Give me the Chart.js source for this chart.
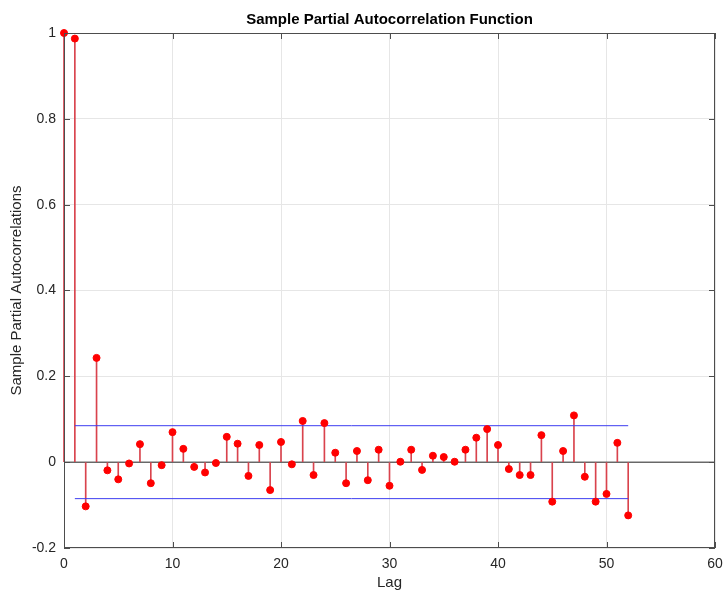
<!DOCTYPE html>
<html>
<head>
<meta charset="utf-8">
<script src="https://cdn.jsdelivr.net/npm/chart.js@4.4.1/dist/chart.umd.min.js"></script>
<style>
  html, body { margin: 0; padding: 0; background: #fff; }
  #wrap { width: 725px; height: 594px; }
</style>
</head>
<body>
<div id="wrap"><canvas id="pacf"></canvas></div>
<script>
// lags 0..52 and sample partial autocorrelations
const lags = Array.from({ length: 53 }, (_, i) => i);
const pacf = [
  1.000, 0.987, -0.103, 0.243, -0.019, -0.040, -0.003, 0.042, -0.049, -0.007,
  0.070, 0.031, -0.011, -0.024, -0.002, 0.059, 0.043, -0.032, 0.040, -0.065,
  0.047, -0.005, 0.096, -0.030, 0.091, 0.022, -0.049, 0.026, -0.042, 0.029,
  -0.055, 0.001, 0.029, -0.018, 0.015, 0.012, 0.001, 0.029, 0.057, 0.077,
  0.040, -0.016, -0.030, -0.030, 0.063, -0.092, 0.026, 0.109, -0.034, -0.092,
  -0.074, 0.045, -0.124,
];
const boundLags = [1, 52];
const upperBound = [0.085, 0.085];
const lowerBound = [-0.085, -0.085];
const zeroLags = [0, 60];
const zeroLine = [0, 0];
const yTicks = [-0.2, 0, 0.2, 0.4, 0.6, 0.8, 1];

const pts = (xs, ys) => xs.map((x, i) => ({ x, y: ys[i] }));

const FONT = "'Liberation Sans', Arial, Helvetica, sans-serif";

// axes box + inward tick marks, MATLAB style
const boxPlugin = {
  id: "box",
  afterDraw(chart) {
    const { ctx, chartArea: a, scales } = chart;
    ctx.save();
    ctx.strokeStyle = "#4d4d4d";
    ctx.lineWidth = 1;
    ctx.strokeRect(a.left + 0.5, a.top + 0.5, a.right - a.left - 1, a.bottom - a.top - 1);
    ctx.beginPath();
    scales.x.ticks.forEach((t) => {
      const px = Math.round(scales.x.getPixelForValue(t.value)) + 0.5;
      ctx.moveTo(px, a.bottom); ctx.lineTo(px, a.bottom - 6);
      ctx.moveTo(px, a.top); ctx.lineTo(px, a.top + 6);
    });
    scales.y.ticks.forEach((t) => {
      const py = Math.round(scales.y.getPixelForValue(t.value)) + 0.5;
      ctx.moveTo(a.left, py); ctx.lineTo(a.left + 6, py);
      ctx.moveTo(a.right, py); ctx.lineTo(a.right - 6, py);
    });
    ctx.stroke();
    ctx.restore();
  },
};

new Chart(document.getElementById("pacf"), {
  type: "scatter",
  data: {
    datasets: [
      {
        type: "scatter",
        label: "PACF",
        data: pts(lags, pacf),
        backgroundColor: "#ff0000",
        borderColor: "#ff0000",
        pointRadius: 3.5,
        clip: false,
        order: 0,
      },
      {
        type: "line",
        label: "Upper bound",
        data: pts(boundLags, upperBound),
        borderColor: "#3d3df0",
        borderWidth: 1,
        pointRadius: 0,
        order: 1,
      },
      {
        type: "line",
        label: "Lower bound",
        data: pts(boundLags, lowerBound),
        borderColor: "#3d3df0",
        borderWidth: 1,
        pointRadius: 0,
        order: 1,
      },
      {
        type: "bar",
        label: "Stems",
        data: pts(lags, pacf),
        backgroundColor: "#d9434d",
        barThickness: 1,
        clip: false,
        order: 2,
      },
      {
        type: "line",
        label: "Zero",
        data: pts(zeroLags, zeroLine),
        borderColor: "#262626",
        borderWidth: 1,
        pointRadius: 0,
        order: 3,
      },
    ],
  },
  options: {
    responsive: true,
    maintainAspectRatio: false,
    animation: false,
    layout: { padding: { top: 0, right: 10, left: 0, bottom: 0 } },
    scales: {
      x: {
        type: "linear",
        min: 0,
        max: 60,
        offset: false,
        grid: { color: "#e6e6e6", drawTicks: false, offset: false },
        border: { display: false },
        ticks: {
          stepSize: 10,
          padding: 8,
          color: "#262626",
          font: { family: FONT, size: 14 },
        },
        title: {
          display: true,
          text: "Lag",
          color: "#262626",
          font: { family: FONT, size: 15 },
          padding: { top: 0, bottom: 2 },
        },
        afterFit: (s) => { s.height = 46; s.paddingLeft = 0; s.paddingRight = 0; },
      },
      // top axis only carries the plot title, centred over the axes
      xTop: {
        type: "linear",
        position: "top",
        min: 0,
        max: 60,
        grid: { display: false },
        border: { display: false },
        ticks: { display: false },
        title: {
          display: true,
          text: "Sample Partial Autocorrelation Function",
          color: "#000",
          font: { family: FONT, size: 15, weight: "bold" },
          padding: { top: 11, bottom: 0 },
        },
        afterFit: (s) => { s.height = 33; s.paddingLeft = 0; s.paddingRight = 0; },
      },
      y: {
        min: -0.2,
        max: 1,
        grid: { color: "#e6e6e6", drawTicks: false },
        border: { display: false },
        afterBuildTicks: (s) => { s.ticks = yTicks.map((v) => ({ value: v })); },
        ticks: {
          padding: 8,
          color: "#262626",
          font: { family: FONT, size: 14 },
          callback: (v) => String(Math.round(v * 10) / 10),
        },
        title: {
          display: true,
          text: "Sample Partial Autocorrelations",
          color: "#262626",
          font: { family: FONT, size: 15 },
          padding: { top: 8, bottom: 0 },
        },
        afterFit: (s) => { s.width = 64; s.paddingTop = 0; s.paddingBottom = 0; },
      },
    },
    plugins: {
      legend: { display: false },
      tooltip: { enabled: false },
      title: { display: false },
    },
  },
  plugins: [boxPlugin],
});
</script>
</body>
</html>
